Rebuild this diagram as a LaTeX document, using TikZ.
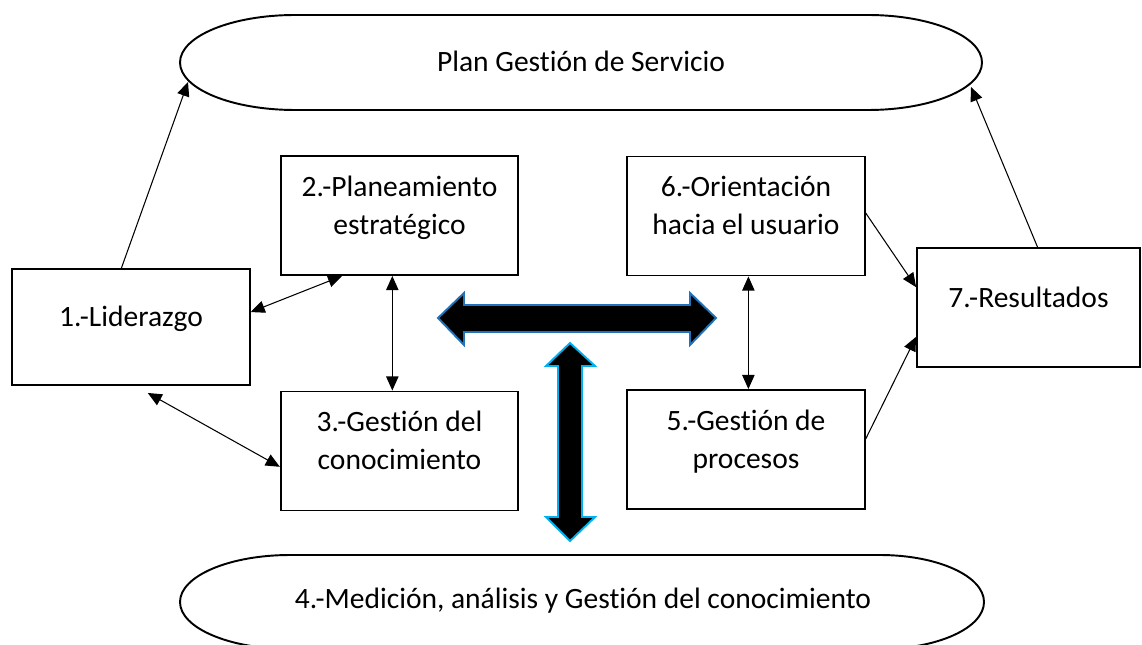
\documentclass[tikz,border=0pt]{standalone}
\usepackage{fontspec}
\setmainfont{Carlito}[Ligatures=NoCommon]
\usetikzlibrary{arrows.meta,calc}
\definecolor{darkblue}{HTML}{2072BA}
\definecolor{lightblue}{HTML}{00B0F0}
\begin{document}
\begin{tikzpicture}[x=0.02cm, y=-0.02cm,
    every node/.style={font=\fontsize{16.8}{21.5}\selectfont},
    box/.style={draw, line width=1.1pt, align=center, text depth=12pt,
      minimum width=4.75cm, minimum height=2.38cm, inner sep=0pt},
    oval/.style={draw, line width=1.1pt},
    conn/.style={line width=0.6pt, >={Triangle[length=8pt,width=7pt]}},
    blockarrow/.style={fill=black, line width=1.1pt}]
  \useasboundingbox (0,0) rectangle (1142,645);

  % Ovals
  \draw[oval] (295,15) -- (868,15) arc[start angle=-90, end angle=90, x radius=114, y radius=47.5]
    -- (295,110) arc[start angle=90, end angle=270, x radius=115, y radius=47.5] -- cycle;
  \node (servicio) at (581,61) {Plan Gestión de Servicio};

  \draw[oval] (290,555) -- (880,555) arc[start angle=-90, end angle=90, x radius=104, y radius=47]
    -- (290,649) arc[start angle=90, end angle=270, x radius=110, y radius=47] -- cycle;
  \node (medicion) at (583,601) {4.-Medición, análisis y Gestión del conocimiento};

  % Boxes
  \node[box, minimum height=2.32cm] (lid) at (131,327) {1.-Liderazgo};
  \node[box] (plan) at (399.5,215.5) {2.-Planeamiento\\estratégico};
  \node[box] (gc) at (399.5,451) {3.-Gestión del\\conocimiento};
  \node[box] (ori) at (746,216) {6.-Orientación\\hacia el usuario};
  \node[box] (proc) at (746,449.5) {5.-Gestión de\\procesos};
  \node[box, minimum width=4.46cm] (res) at (1028.5,307.5) {7.-Resultados};

  % Connectors
  \coordinate (servL) at (188,82);
  \coordinate (servR) at (971,87);
  \draw[conn,->] ($(lid.north west)!.46!(lid.north east)$) -- (servL);
  \draw[conn,->] ($(res.north west)!.54!(res.north east)$) -- (servR);
  \draw[conn,<->] ([yshift=8.5pt]lid.east) -- ($(plan.south west)!.26!(plan.south east)$);
  \draw[conn,<->] ($(plan.south west)!.47!(plan.south east)$) -- ($(gc.north west)!.47!(gc.north east)$);
  \draw[conn,<->] ($(lid.south west)!.57!(lid.south east)+(0,7)$) -- ([yshift=-9pt]gc.west);
  \draw[conn,<->] ($(ori.south west)!.51!(ori.south east)$) -- ($(proc.north west)!.51!(proc.north east)$);
  \draw[conn,->] ([yshift=1.7pt]ori.east) -- ([yshift=11.6pt]res.west);
  \draw[conn,->] ([yshift=6pt]proc.east) -- ([yshift=-16.7pt]res.west);

  % Block arrows
  \draw[blockarrow, draw=darkblue] (438,318) -- (464,293) -- (464,305) -- (690,305) -- (690,293)
    -- (716,318) -- (690,345) -- (690,332) -- (464,332) -- (464,345) -- cycle;
  \draw[blockarrow, draw=lightblue] (570,343) -- (595,366) -- (582,366) -- (582,517) -- (595,517)
    -- (570,541) -- (546,517) -- (558,517) -- (558,366) -- (546,366) -- cycle;
\end{tikzpicture}
\end{document}
